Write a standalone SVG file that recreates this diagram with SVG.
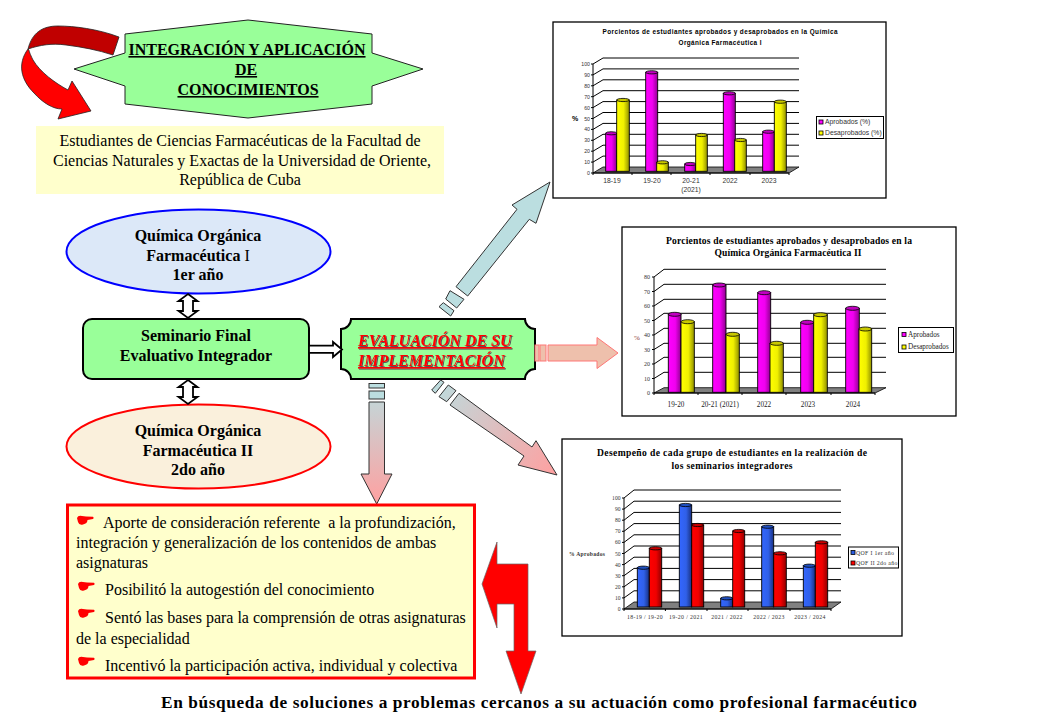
<svg xmlns="http://www.w3.org/2000/svg" width="1040" height="720" viewBox="0 0 1040 720">
<style>
text{font-family:"Liberation Serif","Times New Roman",serif;fill:#000}
.c{text-anchor:middle}.e{text-anchor:end}
.n{font-size:16px}.b{font-size:16px;font-weight:bold}
.u{text-decoration:underline}
.sans{font-family:"Liberation Sans",Arial,sans-serif}
.box{fill:#fff;stroke:#000;stroke-width:1.3}
.grid{fill:none;stroke:#000;stroke-width:1}
.floor{fill:#808080;stroke:#000;stroke-width:.8}
.m{fill:url(#gm);stroke:#000;stroke-width:.9}.mt{fill:#c000c0;stroke:#000;stroke-width:.8}
.y{fill:url(#gy);stroke:#000;stroke-width:.9}.yt{fill:#c8c800;stroke:#000;stroke-width:.8}
.bl{fill:url(#gb);stroke:#000;stroke-width:.9}.blt{fill:#2050c0;stroke:#000;stroke-width:.8}
.r{fill:url(#gr);stroke:#000;stroke-width:.9}.rt{fill:#c80000;stroke:#000;stroke-width:.8}
.leg{fill:#fff;stroke:#000;stroke-width:1}
.t1{font-size:6.4px;font-weight:bold}.a1{font-size:5.2px;fill:#333}.k1{font-size:6.8px;fill:#333}
.t2{font-size:9.6px;font-weight:bold}.a2{font-size:6px;fill:#333}.k2{font-size:7.2px;fill:#222}
.a3{font-size:5.6px;fill:#333}.k3{font-size:5.8px;fill:#333;letter-spacing:.35px}
.dbl{fill:#fff;stroke:#000;stroke-width:1.8}
.blue{fill:#BBDEE0;stroke:#333;stroke-width:1}
.pink{fill:#EEC0AC;stroke:#FF7777;stroke-width:1}
.gd{stroke:#333;stroke-width:1}
</style>
<defs>
<linearGradient id="gm"><stop offset="0" stop-color="#ff00ff"/><stop offset=".55" stop-color="#f000f0"/><stop offset="1" stop-color="#900090"/></linearGradient>
<linearGradient id="gy"><stop offset="0" stop-color="#ffff00"/><stop offset=".55" stop-color="#f0f000"/><stop offset="1" stop-color="#909000"/></linearGradient>
<linearGradient id="gb"><stop offset="0" stop-color="#3366ff"/><stop offset=".55" stop-color="#3060e8"/><stop offset="1" stop-color="#183080"/></linearGradient>
<linearGradient id="gr"><stop offset="0" stop-color="#ff0000"/><stop offset=".55" stop-color="#f00000"/><stop offset="1" stop-color="#900000"/></linearGradient>
<linearGradient id="gdown" x1="0" y1="383" x2="0" y2="504" gradientUnits="userSpaceOnUse"><stop offset="0" stop-color="#BBDEE0"/><stop offset="1" stop-color="#FFA0A0"/></linearGradient>
<linearGradient id="gdiag" x1="432" y1="382" x2="557" y2="475" gradientUnits="userSpaceOnUse"><stop offset="0" stop-color="#BBDEE0"/><stop offset="1" stop-color="#FFA0A0"/></linearGradient>
<filter id="sh" x="-5%" y="-20%" width="110%" height="140%"><feDropShadow dx="1" dy="1" stdDeviation=".4" flood-color="#555"/></filter>
<path id="hand" fill="#f00" d="M0,3 Q1,0 5,1 L9,1.6 L16,1.8 Q17.5,3 16,4 L10.5,5 Q10.5,8.5 6,9.5 Q2,10.5 1,7 Z"/>
</defs>

<g id="curved-arrow">
<path fill="#C00000" stroke="#222" stroke-width=".8" d="M119,37 C98,29 74,26 58,26 C42,26 32,33 28,49 C40,45 52,43 66,45 C82,47 98,50 113,55 Z"/>
<path fill="#FF0000" stroke="#222" stroke-width=".8" d="M28,49 C17,64 21,80 34,93 C43,103 53,109 62,109 L58,119 L91,111 L72,81 L68,90 C55,83 40,72 33,60 C30,54 29,51 29,50 Z"/>
</g>

<g id="title-star">
<polygon fill="#99FF99" stroke="#222" stroke-width="1" points="125,34 248,20 372,34 372,53 423,69 372,86 372,104 248,118 125,104 125,86 74,69 125,53"/>
<text class="b c u" x="247" y="55">INTEGRACIÓN Y APLICACIÓN</text>
<text class="b c u" x="246" y="75">DE</text>
<text class="b c u" x="248" y="95">CONOCIMIENTOS</text>
</g>

<g id="students">
<rect x="36" y="126" width="408" height="68" fill="#FFFFCC"/>
<text class="n c" x="240" y="146">Estudiantes de Ciencias Farmacéuticas de la Facultad de</text>
<text class="n c" x="242" y="166">Ciencias Naturales y Exactas de la Universidad de Oriente,</text>
<text class="n c" x="240" y="185">República de Cuba</text>
</g>

<g id="qof1">
<ellipse cx="198.5" cy="251.5" rx="132" ry="42" fill="#DCE8F8" stroke="#0000FF" stroke-width="2"/>
<text class="b c" x="198" y="241">Química Orgánica</text>
<text class="b c" x="198" y="261">Farmacéutica <tspan font-weight="normal">I</tspan></text>
<text class="b c" x="198" y="280">1er año</text>
</g>

<g id="seminario">
<rect x="83" y="319" width="226" height="60" rx="9" fill="#99FF99" stroke="#000" stroke-width="2"/>
<text class="b c" x="196" y="341">Seminario Final</text>
<text class="b c" x="196" y="361">Evaluativo Integrador</text>
</g>

<g id="qof2">
<ellipse cx="198.5" cy="446.5" rx="132" ry="42" fill="#FAF0DC" stroke="#FF0000" stroke-width="2"/>
<text class="b c" x="198" y="436">Química Orgánica</text>
<text class="b c" x="198" y="456">Farmacéutica II</text>
<text class="b c" x="198" y="475">2do año</text>
</g>

<g id="evaluacion">
<path fill="#99FF99" stroke="#000" stroke-width="2" d="M351,319 H525 A10,10 0 0 0 535,329 V369 A10,10 0 0 0 525,379 H351 A10,10 0 0 0 341,369 V329 A10,10 0 0 0 351,319 Z"/>
<g filter="url(#sh)">
<text class="u" x="358" y="346" style="font-size:16px;font-weight:bold;font-style:italic;fill:#f00">EVALUACIÓN DE SU</text>
<text class="u" x="358" y="366" style="font-size:16px;font-weight:bold;font-style:italic;fill:#f00">IMPLEMENTACIÓN</text>
</g>
</g>

<g id="connectors">
<path class="dbl" d="M188,294 L197.5,301 H193 V311 H197.5 L188,318 L178.5,311 H183 V301 H178.5 Z"/>
<path class="dbl" d="M188,380 L197.5,387 H193 V397 H197.5 L188,404 L178.5,397 H183 V387 H178.5 Z"/>
<path class="dbl" d="M309,345.7 H333 V342 L342,349.5 L333,357 V352.8 H309 Z"/>

<g id="arrow-chart1" class="blue">
<polygon points="456,286.7 467.7,296 529.3,219.3 536,223.3 550,182 512,205 517,209.3"/>
<polygon points="450,290.7 464,299.3 456.7,308 445.7,299"/>
<polygon points="443.3,302.7 454,310.7 450.7,316 439,306.7"/>
</g>
<g id="arrow-chart2" class="pink">
<polygon points="548,345 597,345 597,337.5 618,353 597,368.5 597,361 548,361"/>
<rect x="540" y="345" width="6" height="16"/>
<rect x="535" y="345" width="4" height="16"/>
</g>
<g id="arrow-chart3" fill="url(#gdiag)" class="gd">
<polygon points="450,405 459,393.3 532,447 536,440.7 557,475 518,465 524,456"/>
<polygon points="439,396.7 448.3,385 456,390.7 446.7,401.7"/>
<polygon points="431.7,390 440.7,380 444,382.3 435.3,393.3"/>
</g>
<g id="arrow-list" fill="url(#gdown)" class="gd">
<polygon points="369,402 384.5,402 384.5,474 392,474 376.7,504 361,474 369,474"/>
<rect x="369" y="391" width="15.5" height="8" fill="#BBDEE0"/>
<rect x="369" y="383.5" width="15.5" height="4.5" fill="#BBDEE0"/>
</g>
<polygon id="arrow-red" fill="#f00" stroke="#666" stroke-width=".7" points="482,584 497,542 497,564 528,564 528,651 536,651 521,694 506,651 514,651 514,604 497,604 497,628"/>
</g>

<g id="aportes">
<rect x="67.5" y="505" width="407" height="173" fill="#FFFFCC" stroke="#f00" stroke-width="3"/>
<use href="#hand" x="77" y="515"/>
<use href="#hand" x="78" y="581"/>
<use href="#hand" x="78" y="608"/>
<use href="#hand" x="78" y="656"/>
<text class="n" x="103" y="528" xml:space="preserve">Aporte de consideración referente  a la profundización,</text>
<text class="n" x="76" y="548">integración y generalización de los contenidos de ambas</text>
<text class="n" x="76" y="568">asignaturas</text>
<text class="n" x="105" y="595">Posibilitó la autogestión del conocimiento</text>
<text class="n" x="105" y="623">Sentó las bases para la comprensión de otras asignaturas</text>
<text class="n" x="76" y="644">de la especialidad</text>
<text class="n" x="105" y="671">Incentivó la participación activa, individual y colectiva</text>
</g>

<text id="conclusion" x="161" y="708" textLength="756" lengthAdjust="spacing" style="font-size:17.3px;font-weight:bold">En búsqueda de soluciones a problemas cercanos a su actuación como profesional farmacéutico</text>

<g id="chart1">
<rect class="box" x="553" y="22" width="333" height="176"/>
<text class="t1 sans c" x="720" y="34" textLength="235" lengthAdjust="spacing">Porcientos de estudiantes aprobados y desaprobados en la Química</text>
<text class="t1 sans c" x="720" y="45" textLength="83" lengthAdjust="spacing">Orgánica Farmacéutica I</text>
<path class="grid" d="M593,64 L603,58 H799 M593,74.9 L603,68.9 H799 M593,85.8 L603,79.8 H799 M593,96.7 L603,90.7 H799 M593,107.6 L603,101.6 H799 M593,118.5 L603,112.5 H799 M593,129.4 L603,123.4 H799 M593,140.3 L603,134.3 H799 M593,151.2 L603,145.2 H799 M593,162.1 L603,156.1 H799"/>
<polygon class="floor" points="593,173 603,167 799,167 789,173"/>
<path class="grid" d="M593,64 V173 H789 M591,64 H593 M591,74.9 H593 M591,85.8 H593 M591,96.7 H593 M591,107.6 H593 M591,118.5 H593 M591,129.4 H593 M591,140.3 H593 M591,151.2 H593 M591,162.1 H593 M591,173 H593 M593,173 V175 M632,173 V175 M671,173 V175 M710,173 V175 M750,173 V175 M789,173 V175"/>
<rect class="m" x="605.7" y="133.3" width="11" height="38"/><ellipse class="mt" cx="611.2" cy="133.3" rx="5.5" ry="1.6"/>
<rect class="y" x="616.7" y="100" width="12.6" height="71.3"/><ellipse class="yt" cx="623" cy="100" rx="6.3" ry="1.6"/>
<rect class="m" x="645.7" y="72.3" width="12" height="99"/><ellipse class="mt" cx="651.7" cy="72.3" rx="6" ry="1.6"/>
<rect class="y" x="656.7" y="162.3" width="11.6" height="9"/><ellipse class="yt" cx="662.5" cy="162.3" rx="5.8" ry="1.6"/>
<rect class="m" x="684.7" y="164" width="11" height="7.3"/><ellipse class="mt" cx="690.2" cy="164" rx="5.5" ry="1.6"/>
<rect class="y" x="695.7" y="135" width="11.6" height="36.3"/><ellipse class="yt" cx="701.5" cy="135" rx="5.8" ry="1.6"/>
<rect class="m" x="723.3" y="93.3" width="12" height="78"/><ellipse class="mt" cx="729.3" cy="93.3" rx="6" ry="1.6"/>
<rect class="y" x="734.7" y="140" width="11.6" height="31.3"/><ellipse class="yt" cx="740.5" cy="140" rx="5.8" ry="1.6"/>
<rect class="m" x="762.7" y="131.7" width="11.6" height="39.6"/><ellipse class="mt" cx="768.5" cy="131.7" rx="5.8" ry="1.6"/>
<rect class="y" x="774.3" y="101.7" width="12" height="69.6"/><ellipse class="yt" cx="780.3" cy="101.7" rx="6" ry="1.6"/>
<text class="a1 sans e" x="590" y="66">100</text><text class="a1 sans e" x="590" y="76.9">90</text><text class="a1 sans e" x="590" y="87.8">80</text><text class="a1 sans e" x="590" y="98.7">70</text><text class="a1 sans e" x="590" y="109.6">60</text><text class="a1 sans e" x="590" y="120.5">50</text><text class="a1 sans e" x="590" y="131.4">40</text><text class="a1 sans e" x="590" y="142.3">30</text><text class="a1 sans e" x="590" y="153.2">20</text><text class="a1 sans e" x="590" y="164.1">10</text><text class="a1 sans e" x="590" y="175">0</text>
<text class="sans c" x="575" y="121" style="font-size:7px;font-weight:bold">%</text>
<text class="k1 sans c" x="612" y="183">18-19</text><text class="k1 sans c" x="652" y="183">19-20</text><text class="k1 sans c" x="691" y="183">20-21</text><text class="k1 sans c" x="691" y="192">(2021)</text><text class="k1 sans c" x="730" y="183">2022</text><text class="k1 sans c" x="769" y="183">2023</text>
<rect class="leg" x="816.5" y="116.5" width="67" height="22"/>
<rect x="819" y="120" width="4" height="4" fill="#f0f" stroke="#000" stroke-width=".8"/><rect x="819" y="131" width="4" height="4" fill="#ff0" stroke="#000" stroke-width=".8"/>
<text class="k1 sans" x="825" y="124">Aprobados (%)</text><text class="k1 sans" x="825" y="135">Desaprobados (%)</text>
</g>

<g id="chart2">
<rect class="box" x="622" y="227" width="334" height="189"/>
<text class="t2 c" x="789" y="244" textLength="246" lengthAdjust="spacing">Porcientos de estudiantes aprobados y desaprobados en la</text>
<text class="t2 c" x="788" y="256" textLength="147" lengthAdjust="spacing">Química Orgánica Farmacéutica II</text>
<path class="grid" d="M654,277 L664,269.3 H886 M654,291.5 L664,284.3 H886 M654,306 L664,299.3 H886 M654,320.5 L664,313.3 H886 M654,335 L664,328.3 H886 M654,349.5 L664,343.3 H886 M654,364 L664,357.3 H886 M654,378.5 L664,372.3 H886"/>
<polygon class="floor" points="654,393 664,387.7 886,387.7 875,393"/>
<path class="grid" d="M654,277 V393 H875 M652,277 H654 M652,291.5 H654 M652,306 H654 M652,320.5 H654 M652,335 H654 M652,349.5 H654 M652,364 H654 M652,378.5 H654 M652,393 H654 M654,393 V395 M698,393 V395 M742,393 V395 M786,393 V395 M831,393 V395 M875,393 V395"/>
<rect class="m" x="668.3" y="314.3" width="12.7" height="78"/><ellipse class="mt" cx="674.7" cy="314.3" rx="6.4" ry="2"/>
<rect class="y" x="681" y="321.7" width="13.3" height="70.6"/><ellipse class="yt" cx="687.7" cy="321.7" rx="6.6" ry="2"/>
<rect class="m" x="712.7" y="285" width="13.3" height="107.3"/><ellipse class="mt" cx="719.3" cy="285" rx="6.6" ry="2"/>
<rect class="y" x="726" y="334.3" width="13.3" height="58"/><ellipse class="yt" cx="732.7" cy="334.3" rx="6.6" ry="2"/>
<rect class="m" x="757.7" y="292.7" width="13" height="99.6"/><ellipse class="mt" cx="764.2" cy="292.7" rx="6.5" ry="2"/>
<rect class="y" x="770" y="343.3" width="13.3" height="49"/><ellipse class="yt" cx="776.7" cy="343.3" rx="6.6" ry="2"/>
<rect class="m" x="800.7" y="322.3" width="13" height="70"/><ellipse class="mt" cx="807.2" cy="322.3" rx="6.5" ry="2"/>
<rect class="y" x="813.7" y="314.7" width="13.6" height="77.6"/><ellipse class="yt" cx="820.5" cy="314.7" rx="6.8" ry="2"/>
<rect class="m" x="845.7" y="308.3" width="13.6" height="84"/><ellipse class="mt" cx="852.5" cy="308.3" rx="6.8" ry="2"/>
<rect class="y" x="859" y="329" width="12.7" height="63.3"/><ellipse class="yt" cx="865.3" cy="329" rx="6.4" ry="2"/>
<text class="a2 e" x="650" y="279">80</text><text class="a2 e" x="650" y="293.5">70</text><text class="a2 e" x="650" y="308">60</text><text class="a2 e" x="650" y="322.5">50</text><text class="a2 e" x="650" y="337">40</text><text class="a2 e" x="650" y="351.5">30</text><text class="a2 e" x="650" y="366">20</text><text class="a2 e" x="650" y="380.5">10</text><text class="a2 e" x="650" y="395">0</text>
<text class="c" x="637" y="340" style="font-size:7px;fill:#833">%</text>
<text class="k2 c" x="676" y="407">19-20</text><text class="k2 c" x="720" y="407">20-21 (2021)</text><text class="k2 c" x="764" y="407">2022</text><text class="k2 c" x="808" y="407">2023</text><text class="k2 c" x="853" y="407">2024</text>
<rect class="leg" x="898.5" y="327.5" width="55" height="25"/>
<rect x="902" y="332.5" width="4" height="4" fill="#f0f" stroke="#000" stroke-width=".8"/><rect x="902" y="345" width="4" height="4" fill="#ff0" stroke="#000" stroke-width=".8"/>
<text class="k2" x="908" y="337">Aprobados</text><text class="k2" x="908" y="349">Desaprobados</text>
</g>

<g id="chart3">
<rect class="box" x="562" y="439" width="340" height="197"/>
<text class="t2 c" x="732" y="456" textLength="270" lengthAdjust="spacing">Desempeño de cada grupo de estudiantes en la realización de</text>
<text class="t2 c" x="732" y="469" textLength="121" lengthAdjust="spacing">los seminarios integradores</text>
<path class="grid" d="M624,498 L634,490 H841 M624,509.1 L634,501.2 H841 M624,520.2 L634,512.4 H841 M624,531.3 L634,523.6 H841 M624,542.4 L634,534.8 H841 M624,553.5 L634,546 H841 M624,564.6 L634,557.2 H841 M624,575.7 L634,568.4 H841 M624,586.8 L634,579.6 H841 M624,597.9 L634,590.8 H841"/>
<polygon class="floor" points="624,609 634,602 841,602 831,609"/>
<path class="grid" d="M624,498 V609 H831 M622,498 H624 M622,509.1 H624 M622,520.2 H624 M622,531.3 H624 M622,542.4 H624 M622,553.5 H624 M622,564.6 H624 M622,575.7 H624 M622,586.8 H624 M622,597.9 H624 M622,609 H624 M624,609 V611 M665.4,609 V611 M707,609 V611 M748,609 V611 M790,609 V611 M831,609 V611"/>
<rect class="bl" x="637.3" y="567.7" width="12" height="39.3"/><ellipse class="blt" cx="643.3" cy="567.7" rx="6" ry="1.6"/>
<rect class="r" x="649.3" y="548.3" width="12.4" height="58.7"/><ellipse class="rt" cx="655.5" cy="548.3" rx="6.2" ry="1.6"/>
<rect class="bl" x="679.3" y="505" width="12.4" height="102"/><ellipse class="blt" cx="685.5" cy="505" rx="6.2" ry="1.6"/>
<rect class="r" x="691.7" y="525" width="12" height="82"/><ellipse class="rt" cx="697.7" cy="525" rx="6" ry="1.6"/>
<rect class="bl" x="720.7" y="598.3" width="12" height="8.7"/><ellipse class="blt" cx="726.7" cy="598.3" rx="6" ry="1.6"/>
<rect class="r" x="732.7" y="531" width="12" height="76"/><ellipse class="rt" cx="738.7" cy="531" rx="6" ry="1.6"/>
<rect class="bl" x="761.7" y="526.7" width="12" height="80.3"/><ellipse class="blt" cx="767.7" cy="526.7" rx="6" ry="1.6"/>
<rect class="r" x="773.7" y="553.3" width="12.6" height="53.7"/><ellipse class="rt" cx="780" cy="553.3" rx="6.3" ry="1.6"/>
<rect class="bl" x="803.3" y="565.7" width="12" height="41.3"/><ellipse class="blt" cx="809.3" cy="565.7" rx="6" ry="1.6"/>
<rect class="r" x="815.3" y="542.3" width="12.4" height="64.7"/><ellipse class="rt" cx="821.5" cy="542.3" rx="6.2" ry="1.6"/>
<text class="a3 e" x="620.5" y="500">100</text><text class="a3 e" x="620.5" y="511.1">90</text><text class="a3 e" x="620.5" y="522.2">80</text><text class="a3 e" x="620.5" y="533.3">70</text><text class="a3 e" x="620.5" y="544.4">60</text><text class="a3 e" x="620.5" y="555.5">50</text><text class="a3 e" x="620.5" y="566.6">40</text><text class="a3 e" x="620.5" y="577.7">30</text><text class="a3 e" x="620.5" y="588.8">20</text><text class="a3 e" x="620.5" y="599.9">10</text><text class="a3 e" x="620.5" y="611">0</text>
<text x="569" y="555.5" style="font-size:5.6px;font-weight:bold;fill:#333;letter-spacing:.3px">% Aprobados</text>
<text class="k3 c" x="645" y="618.5">18-19 / 19-20</text><text class="k3 c" x="686" y="618.5">19-20 / 2021</text><text class="k3 c" x="727" y="618.5">2021 / 2022</text><text class="k3 c" x="769" y="618.5">2022 / 2023</text><text class="k3 c" x="810" y="618.5">2023 / 2024</text>
<rect class="leg" x="848.5" y="547" width="50" height="21"/>
<rect x="851" y="550.5" width="4" height="4" fill="#2a5ce0" stroke="#000" stroke-width=".8"/><rect x="851" y="561" width="4" height="4" fill="#f00" stroke="#000" stroke-width=".8"/>
<text class="k3" x="856" y="554.5">QOF I 1er año</text><text class="k3" x="856" y="565">QOF II 2do año</text>
</g>
</svg>
